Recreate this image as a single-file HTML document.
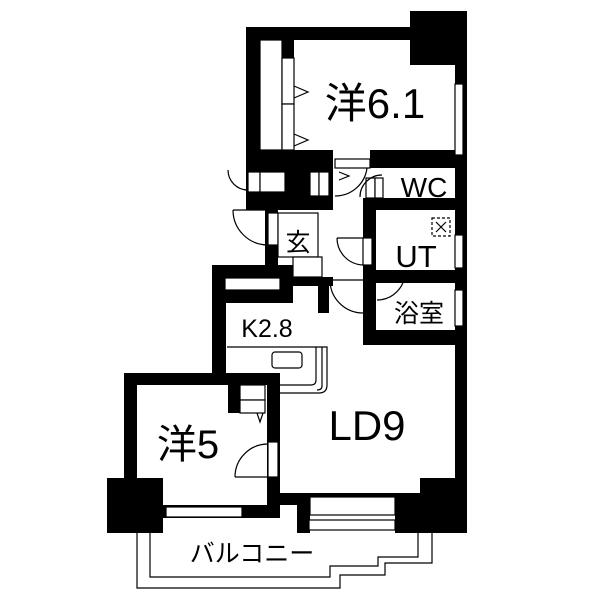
<!DOCTYPE html>
<html><head><meta charset="utf-8"><style>
html,body{margin:0;padding:0;background:#fff;width:600px;height:600px;overflow:hidden}
svg{display:block}
text{font-family:"Liberation Sans","Noto Sans CJK JP",sans-serif;fill:#000}
</style></head><body>
<svg width="600" height="600" viewBox="0 0 600 600">
<g fill="#000">
<rect x="246" y="27" width="221" height="13"/>
<rect x="410" y="11" width="57" height="54"/>
<rect x="246" y="27" width="14" height="183"/>
<rect x="455" y="27" width="12" height="506"/>
<rect x="246" y="150" width="87" height="18"/>
<rect x="370" y="150" width="97" height="18"/>
<rect x="282" y="40" width="12" height="18"/>
<rect x="246" y="168" width="87" height="42"/>
<rect x="265" y="210" width="13" height="55"/>
<rect x="363" y="198" width="104" height="12"/>
<rect x="363" y="198" width="13" height="147"/>
<rect x="376" y="270" width="91" height="13"/>
<rect x="363" y="330" width="104" height="15"/>
<rect x="212" y="265" width="81" height="38"/>
<rect x="293" y="277" width="40" height="9"/>
<rect x="318" y="283" width="11" height="30"/>
<rect x="212" y="265" width="14" height="120"/>
<rect x="124" y="373" width="156" height="12"/>
<rect x="124" y="373" width="13" height="110"/>
<rect x="107" y="478" width="56" height="55"/>
<rect x="267" y="373" width="13" height="145"/>
<rect x="163" y="505" width="117" height="13"/>
<rect x="228" y="385" width="13" height="28"/>
<rect x="280" y="493" width="140" height="12"/>
<rect x="297" y="493" width="13" height="40"/>
<rect x="395" y="493" width="25" height="40"/>
<rect x="420" y="478" width="47" height="55"/>
</g>
<g fill="#fff" stroke="#000" stroke-width="1.2">
<rect x="455" y="84" width="8" height="71"/>
<rect x="455" y="235" width="8" height="33"/>
<rect x="455" y="290" width="8" height="36"/>
<rect x="225" y="278" width="55" height="12"/>
<rect x="166" y="507" width="76" height="10"/>
<rect x="310" y="497" width="85" height="18"/>
<rect x="309" y="520" width="86" height="10"/>
<rect x="260" y="40" width="22" height="110"/>
<rect x="282" y="58" width="12" height="46"/>
<rect x="282" y="104" width="12" height="46"/>
<rect x="248" y="172" width="12" height="20"/>
<rect x="260" y="172" width="25" height="20"/>
<rect x="310" y="172" width="9" height="24"/>
<rect x="319" y="172" width="10" height="24"/>
<rect x="335" y="159" width="35" height="9"/>
<rect x="268" y="213" width="10" height="32"/>
<rect x="278" y="213" width="40" height="44"/>
<rect x="293" y="257" width="29" height="20"/>
<rect x="363" y="238" width="9" height="27"/>
<rect x="366" y="178" width="9" height="20"/>
<rect x="375" y="178" width="8" height="20"/>
<rect x="240" y="385" width="25" height="15"/>
<rect x="240" y="400" width="25" height="13"/>
<rect x="268" y="442" width="10" height="35"/>
</g>
<g fill="none" stroke="#000" stroke-width="1.2">
<path d="M228,170 A20,20 0 0 0 248,190"/>
<path d="M233,210 H268 M233,210 A35,35 0 0 0 268,245"/>
<path d="M337,238 H363 M337,238 A27,27 0 0 0 363,265"/>
<path d="M330,280 H363 M330,280 A33,33 0 0 0 363,313"/>
<path d="M405,272 A28,28 0 0 1 377,300"/>
<path d="M335,196 A32,32 0 0 0 367,168"/>
<path d="M360,197 A22,22 0 0 1 382,175"/>
<path d="M235,477 H268 M235,477 A33,33 0 0 1 268,444"/>
<path d="M294,86 L308,92 L294,98 M294,134 L308,140 L294,146"/>
<path d="M339,172 L349,176 L339,180"/>
<path d="M257,413 L260,422 L263,413"/>
<rect x="432" y="218" width="18" height="18" stroke-dasharray="3,2"/>
<path d="M436,222 L446,232 M446,222 L436,232"/>
<path d="M227,347 H327 V385 Q327,393 319,393 H280"/>
<path d="M316,347 V380 Q316,385 311,385 H280"/>
<path d="M322,347 V386 Q322,390 317,390"/>
<rect x="272" y="352" width="30" height="16" rx="3"/>
<path d="M150,533 V577 H330 V566 H378 V557 H418 V533"/>
<path d="M137,533 V588 H340 V575 H385 V563 H432 V533"/>
</g>
<text x="375" y="118" font-size="42" text-anchor="middle">洋6.1</text>
<text x="424" y="197" font-size="28" text-anchor="middle">WC</text>
<text x="416" y="267" font-size="31" text-anchor="middle">UT</text>
<text x="419" y="322" font-size="25" text-anchor="middle">浴室</text>
<text x="298" y="251" font-size="25" text-anchor="middle">玄</text>
<text x="267" y="337" font-size="25" text-anchor="middle">K2.8</text>
<text x="367" y="440" font-size="42" text-anchor="middle">LD9</text>
<text x="188" y="458" font-size="40" text-anchor="middle">洋5</text>
<text x="252" y="562" font-size="25" text-anchor="middle">バルコニー</text>
</svg>
</body></html>
